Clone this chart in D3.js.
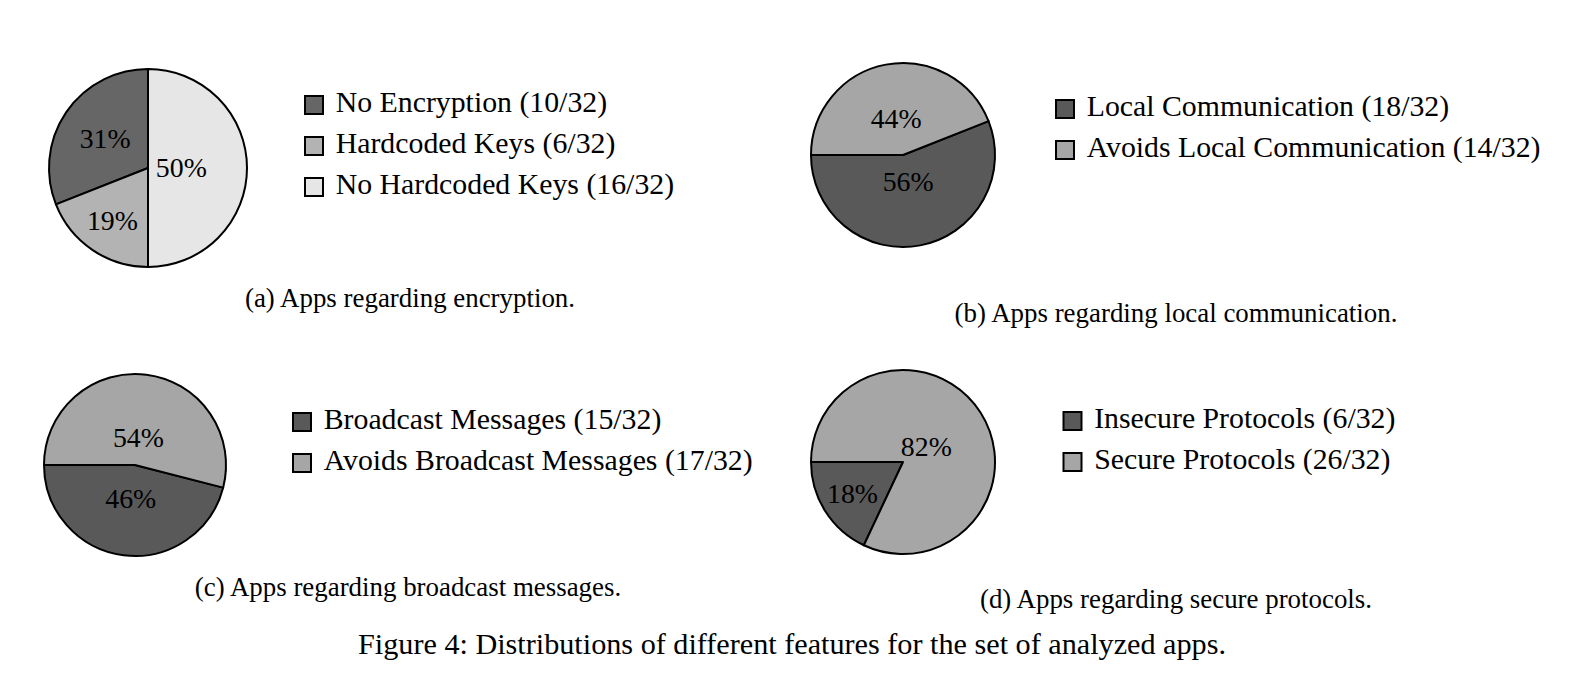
<!DOCTYPE html>
<html><head><meta charset="utf-8">
<script src="https://cdn.jsdelivr.net/npm/d3@7"></script>
<style>
body{margin:0;background:#fff}
svg{display:block}
text{font-family:"Liberation Serif","Times New Roman",Times,serif;fill:#000}
</style>
</head><body>
<svg id="chart" width="1577" height="690"></svg>
<script>
// ---------- data ----------
const total = 32;
const encLabels = ["No Encryption", "Hardcoded Keys", "No Hardcoded Keys"];
const encCounts = [10, 6, 16];
const encPercents = [31, 19, 50];

const localLabels = ["Local Communication", "Avoids Local Communication"];
const localCounts = [18, 14];
const localPercents = [56, 44];

const bcastLabels = ["Broadcast Messages", "Avoids Broadcast Messages"];
const bcastCounts = [15, 17];
const bcastPercents = [46, 54];

const protoLabels = ["Insecure Protocols", "Secure Protocols"];
const protoCounts = [6, 26];
const protoPercents = [18, 82];

const subCaptions = [
  "(a) Apps regarding encryption.",
  "(b) Apps regarding local communication.",
  "(c) Apps regarding broadcast messages.",
  "(d) Apps regarding secure protocols."
];
const figureCaption = "Figure 4: Distributions of different features for the set of analyzed apps.";

// ---------- layout ----------
const panels = [
  {labels: encLabels, counts: encCounts, pct: encPercents, cap: subCaptions[0],
   cx: 148, cy: 168, r: 99, startDeg: 90, colors: ["#666666", "#b3b3b3", "#e6e6e6"],
   lx: 304, ly: 105, capX: 410, capY: 307},
  {labels: localLabels, counts: localCounts, pct: localPercents, cap: subCaptions[1],
   cx: 903, cy: 155, r: 92, startDeg: 180, colors: ["#595959", "#a6a6a6"],
   lx: 1055, ly: 109, capX: 1176, capY: 322},
  {labels: bcastLabels, counts: bcastCounts, pct: bcastPercents, cap: subCaptions[2],
   cx: 135, cy: 465, r: 91, startDeg: 180, colors: ["#595959", "#a6a6a6"],
   lx: 292, ly: 422, capX: 408, capY: 596},
  {labels: protoLabels, counts: protoCounts, pct: protoPercents, cap: subCaptions[3],
   cx: 903, cy: 462, r: 92, startDeg: 180, colors: ["#595959", "#a6a6a6"],
   lx: 1062.5, ly: 421, capX: 1176, capY: 608}
];

const svg = d3.select("#chart");
const legendFont = 29.8, pctFont = 27.8, capFont = 26.9, figFont = 30.2;
const rowGap = 41;

panels.forEach(p => {
  const s = (90 - p.startDeg) * Math.PI / 180; // d3 angle (clockwise from top)
  const pie = d3.pie().sort(null).value(d => d).startAngle(s).endAngle(s - 2 * Math.PI);
  const arcs = pie(p.pct);
  const arc = d3.arc().innerRadius(0).outerRadius(p.r);
  const color = d3.scaleOrdinal().domain(d3.range(p.pct.length)).range(p.colors);

  const g = svg.append("g").attr("transform", `translate(${p.cx},${p.cy})`);
  g.selectAll("path.slice").data(arcs).enter().append("path")
    .attr("class", "slice")
    .attr("d", arc)
    .attr("fill", (d, i) => color(i))
    .attr("stroke", "#000")
    .attr("stroke-width", 2)
    .attr("stroke-linejoin", "round");

  // label placement rule (pgf-pie style)
  g.selectAll("text.pct").data(arcs).enter().append("text")
    .attr("class", "pct")
    .attr("text-anchor", "middle")
    .attr("font-size", pctFont)
    .attr("transform", d => {
      const deg = Math.abs(d.endAngle - d.startAngle) * 180 / Math.PI;
      const f = Math.max(Math.min((deg - 10) / 110 * (-0.3), 0), -0.5) + 0.8;
      const rr = f * p.r;
      const a = (d.startAngle + d.endAngle) / 2;
      return `translate(${rr * Math.sin(a)},${-rr * Math.cos(a) + pctFont * 0.33})`;
    })
    .text((d, i) => p.pct[i] + "%");

  // legend
  const lg = svg.append("g").attr("transform", `translate(${p.lx},${p.ly})`);
  const rows = lg.selectAll("g.row").data(p.labels).enter().append("g")
    .attr("class", "row")
    .attr("transform", (d, i) => `translate(0,${i * rowGap})`);
  rows.append("rect")
    .attr("x", 1).attr("y", -9).attr("width", 18).attr("height", 18)
    .attr("fill", (d, i) => color(i))
    .attr("stroke", "#000").attr("stroke-width", 2);
  rows.append("text")
    .attr("x", 31.7).attr("y", 7.3)
    .attr("font-size", legendFont)
    .text((d, i) => `${d} (${p.counts[i]}/${total})`);

  // sub caption
  svg.append("text")
    .attr("x", p.capX).attr("y", p.capY)
    .attr("text-anchor", "middle")
    .attr("font-size", capFont)
    .text(p.cap);
});

svg.append("text")
  .attr("x", 792).attr("y", 654)
  .attr("text-anchor", "middle")
  .attr("font-size", figFont)
  .text(figureCaption);
</script>
</body></html>
